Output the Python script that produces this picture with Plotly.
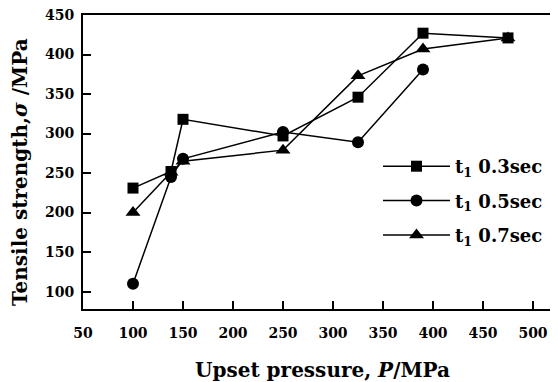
import plotly.graph_objects as go

# Data
x_03 = [100, 138, 150, 250, 325, 390, 475]
y_03 = [231, 252, 318, 297, 346, 427, 421]
x_05 = [100, 138, 150, 250, 325, 390]
y_05 = [110, 245, 268, 302, 289, 381]
x_07 = [100, 138, 150, 250, 325, 390, 475]
y_07 = [200, 251, 265, 279, 373, 407, 421]

names = ["t<sub>1</sub> 0.3sec", "t<sub>1</sub> 0.5sec", "t<sub>1</sub> 0.7sec"]
x_ticks = [50, 100, 150, 200, 250, 300, 350, 400, 450, 500]
y_ticks = [100, 150, 200, 250, 300, 350, 400, 450]

FONT = "DejaVu Serif"
fig = go.Figure()
series = [(x_03, y_03, "square", 11), (x_05, y_05, "circle", 12), (x_07, y_07, "triangle-up", 13)]
for i, (xs, ys, sym, sz) in enumerate(series):
    fig.add_trace(go.Scatter(
        x=xs, y=ys, mode="lines+markers", name=names[i], legendgroup=str(i),
        line=dict(color="black", width=1.5),
        marker=dict(symbol=sym, size=sz, color="black"),
    ))

# page body adds an 8px offset, so the figure is 8px smaller on each side
fig.update_layout(
    width=550, height=374,
    margin=dict(l=75, r=0, t=7, b=73),
    paper_bgcolor="white", plot_bgcolor="white",
    font=dict(family=FONT, color="black"),
    showlegend=True,
    legend=dict(
        x=(378 - 83) / 475, y=(309 - 148) / 294, xanchor="left", yanchor="top",
        bgcolor="rgba(0,0,0,0)", font=dict(family=FONT, size=18, color="black", weight="bold"),
        itemwidth=67, tracegroupgap=8,
    ),
    xaxis=dict(
        range=[50, 525], tickvals=x_ticks, ticks="inside", ticklen=8, tickwidth=2,
        tickcolor="black", showline=True, linecolor="black", linewidth=2, mirror=True,
        showgrid=False, zeroline=False, ticklabelstandoff=10, automargin=False,
        ticklabeloverflow="allow",
        tickfont=dict(family=FONT, size=14, color="black", weight="bold"),
    ),
    yaxis=dict(
        range=[78, 450], tickvals=y_ticks, ticks="inside", ticklen=8, tickwidth=2,
        tickcolor="black", showline=True, linecolor="black", linewidth=2, mirror=False,
        showgrid=False, zeroline=False, ticklabelstandoff=4, automargin=False,
        ticklabeloverflow="allow",
        tickfont=dict(family=FONT, size=14, color="black", weight="bold"),
    ),
    annotations=[
        dict(text="Upset pressure, <i>P</i>/MPa", xref="paper", yref="paper",
             x=(322 - 83) / 475, y=-(370 - 309) / 294, xanchor="center", yanchor="middle",
             showarrow=False, font=dict(family=FONT, size=20, color="black", weight="bold")),
        dict(text="Tensile strength,<i>σ</i> /MPa", xref="paper", yref="paper",
             x=(20 - 83) / 475, y=(309 - 172) / 294, xanchor="center", yanchor="middle",
             textangle=-90, showarrow=False,
             font=dict(family=FONT, size=20, color="black", weight="bold")),
    ],
)

fig.write_html("out.html")
